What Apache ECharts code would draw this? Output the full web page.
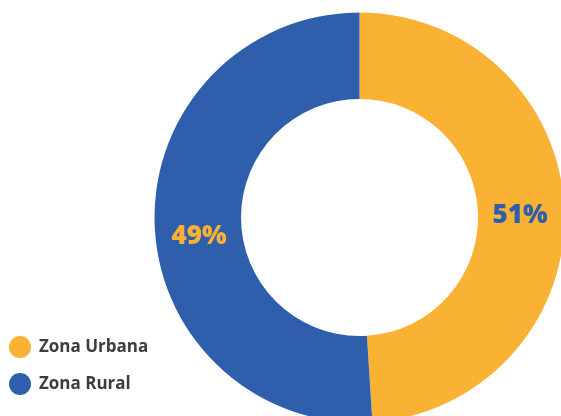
<!DOCTYPE html>
<html>
<head>
<meta charset="utf-8">
<script src="https://cdn.jsdelivr.net/npm/echarts@6/dist/echarts.min.js"></script>
<style>
  html, body { margin: 0; padding: 0; background: #ffffff; }
  #chart { width: 561px; height: 416px; }
</style>
</head>
<body>
<div id="chart"></div>
<script>
// Population share by zone
const categories = ['Zona Urbana', 'Zona Rural'];
const values = [49, 51];
const sliceColors = ['#F9B233', '#2F5FAC'];

const chart = echarts.init(document.getElementById('chart'), null, { renderer: 'canvas' });

const CENTER = [359.5, 217.5];
const RADIUS = [118.5, 205];
const LABEL_RADIUS = [114, 201];

// Ring slices
const ringData = categories.map((name, i) => ({
  name: name,
  value: values[i],
  itemStyle: { color: sliceColors[i] }
}));

// Percentage labels: each value is written in its own colour
// on top of the opposite slice (a transparent ring in reverse order).
const labelOrder = [1, 0];
const labelData = labelOrder.map((i) => ({
  name: categories[i],
  value: values[i],
  itemStyle: { color: 'rgba(0,0,0,0)' },
  label: {
    formatter: i === 0 ? '{g|}\n{v|{c}%}' : '{v|{c}%}',
    rich: {
      g: { lineHeight: 33 },
      v: {
        lineHeight: 30,
        color: sliceColors[i],
        fontFamily: 'Open Sans',
        fontWeight: 800,
        fontSize: 26
      }
    }
  }
}));

chart.setOption({
  animation: false,
  backgroundColor: '#ffffff',
  legend: {
    orient: 'vertical',
    left: 4,
    top: 331,
    icon: 'circle',
    itemWidth: 22,
    itemHeight: 22,
    itemGap: 15,
    data: categories,
    textStyle: {
      fontFamily: 'Open Sans',
      fontWeight: 'bold',
      fontSize: 17,
      lineHeight: 22,
      color: '#3d3d3d',
      padding: [0, 0, 0, 3]
    }
  },
  series: [
    {
      type: 'pie',
      name: 'ring',
      center: CENTER,
      radius: RADIUS,
      startAngle: 90,
      clockwise: true,
      silent: true,
      label: { show: false },
      labelLine: { show: false },
      itemStyle: { borderWidth: 0 },
      data: ringData
    },
    {
      type: 'pie',
      name: 'labels',
      center: CENTER,
      radius: LABEL_RADIUS,
      startAngle: 92.6,
      clockwise: true,
      silent: true,
      avoidLabelOverlap: false,
      label: { show: true, position: 'inside' },
      labelLine: { show: false },
      itemStyle: { borderWidth: 0 },
      data: labelData
    }
  ]
});
</script>
</body>
</html>
